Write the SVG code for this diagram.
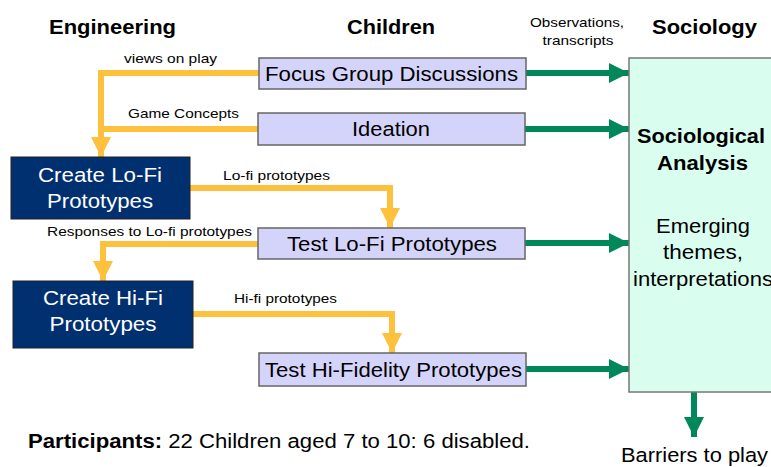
<svg xmlns="http://www.w3.org/2000/svg" width="771" height="467" viewBox="0 0 771 467">
<style>
text{font-family:"Liberation Sans",Arial,sans-serif;fill:#000}
.h{font-size:20px;font-weight:bold;text-anchor:middle}
.lbl{font-size:13.5px;text-anchor:middle}
.sm{font-size:13px;text-anchor:middle}
.box{fill:#d4d4fb;stroke:#666;stroke-width:1.5}
.bt{font-size:20.5px;text-anchor:middle}
.eng{fill:#003070;stroke:#222;stroke-width:1}
.et{font-size:20.5px;text-anchor:middle;fill:#fff}
.y{fill:none;stroke:#fdc13d;stroke-width:6}
.g{fill:none;stroke:#00875a;stroke-width:6}
.st{font-size:20.5px;text-anchor:middle}
</style>
<defs>
<marker id="ya" markerUnits="userSpaceOnUse" markerWidth="22" markerHeight="20" refX="20" refY="10" orient="auto" viewBox="0 0 22 20"><path d="M0,0 L20,10 L0,20 Z" fill="#fdc13d"/></marker>
<marker id="ga" markerUnits="userSpaceOnUse" markerWidth="22" markerHeight="20" refX="20" refY="10" orient="auto" viewBox="0 0 22 20"><path d="M0,0 L20,10 L0,20 Z" fill="#00875a"/></marker>
</defs>
<rect width="771" height="467" fill="#fff"/>
<text class="h" x="112.5" y="34" textLength="127" lengthAdjust="spacingAndGlyphs">Engineering</text>
<text class="h" x="391" y="34" textLength="88" lengthAdjust="spacingAndGlyphs">Children</text>
<text class="h" x="704.5" y="34" textLength="105" lengthAdjust="spacingAndGlyphs">Sociology</text>
<text class="sm" x="577" y="27" textLength="94" lengthAdjust="spacingAndGlyphs">Observations,</text>
<text class="sm" x="578" y="45" textLength="71" lengthAdjust="spacingAndGlyphs">transcripts</text>

<g id="connectors">
<path class="y" d="M259,73 H101 V157" marker-end="url(#ya)"/>
<path class="y" d="M258,129 H101"/>
<path class="y" d="M190,188 H390 V228" marker-end="url(#ya)"/>
<path class="y" d="M258,244 H103 V281" marker-end="url(#ya)"/>
<path class="y" d="M193,314 H392 V353" marker-end="url(#ya)"/>
<path class="g" d="M526,73 H629" marker-end="url(#ga)"/>
<path class="g" d="M525,129 H629" marker-end="url(#ga)"/>
<path class="g" d="M525,243 H629" marker-end="url(#ga)"/>
<path class="g" d="M526,369 H629" marker-end="url(#ga)"/>
<path class="g" d="M694,392 V437" marker-end="url(#ga)"/>
<text class="lbl" x="170.5" y="63" textLength="93" lengthAdjust="spacingAndGlyphs">views on play</text>
<text class="lbl" x="183.5" y="118" textLength="111" lengthAdjust="spacingAndGlyphs">Game Concepts</text>
<text class="lbl" x="276.5" y="180" textLength="107" lengthAdjust="spacingAndGlyphs">Lo-fi prototypes</text>
<text class="lbl" x="149.5" y="236" textLength="205" lengthAdjust="spacingAndGlyphs">Responses to Lo-fi prototypes</text>
<text class="lbl" x="285.5" y="303" textLength="103" lengthAdjust="spacingAndGlyphs">Hi-fi prototypes</text>
</g>

<g id="focus"><rect class="box" x="259" y="58" width="267" height="31"/><text class="bt" x="391.5" y="81" textLength="253" lengthAdjust="spacingAndGlyphs">Focus Group Discussions</text></g>
<g id="ideation"><rect class="box" x="258" y="113" width="267" height="32"/><text class="bt" x="391" y="136" textLength="78" lengthAdjust="spacingAndGlyphs">Ideation</text></g>
<g id="testlofi"><rect class="box" x="258" y="228" width="267" height="31"/><text class="bt" x="392" y="251" textLength="210" lengthAdjust="spacingAndGlyphs">Test Lo-Fi Prototypes</text></g>
<g id="testhifi"><rect class="box" x="259" y="353" width="267" height="33"/><text class="bt" x="393.5" y="377" textLength="257" lengthAdjust="spacingAndGlyphs">Test Hi-Fidelity Prototypes</text></g>
<g id="createlofi"><rect class="eng" x="11" y="157" width="179" height="62"/><text class="et" x="100" y="182" textLength="124" lengthAdjust="spacingAndGlyphs">Create Lo-Fi</text><text class="et" x="100" y="208" textLength="106" lengthAdjust="spacingAndGlyphs">Prototypes</text></g>
<g id="createhifi"><rect class="eng" x="13" y="281" width="180" height="67"/><text class="et" x="103" y="305" textLength="120" lengthAdjust="spacingAndGlyphs">Create Hi-Fi</text><text class="et" x="103" y="331" textLength="107" lengthAdjust="spacingAndGlyphs">Prototypes</text></g>
<g id="sociology"><rect x="629" y="58" width="160" height="334" fill="#d9fef0" stroke="#777" stroke-width="1.5"/>
<text class="st" x="701" y="143" font-weight="bold" textLength="128" lengthAdjust="spacingAndGlyphs">Sociological</text>
<text class="st" x="702.5" y="170" font-weight="bold" textLength="91" lengthAdjust="spacingAndGlyphs">Analysis</text>
<text class="st" x="703" y="233" textLength="94" lengthAdjust="spacingAndGlyphs">Emerging</text>
<text class="st" x="703" y="259" textLength="80" lengthAdjust="spacingAndGlyphs">themes,</text>
<text class="st" x="703" y="286" textLength="140" lengthAdjust="spacingAndGlyphs">interpretations</text>
</g>
<g id="barriers"><text class="st" x="694.5" y="462" textLength="147" lengthAdjust="spacingAndGlyphs">Barriers to play</text></g>
<g id="participants"><text x="28" y="448" font-size="19.5" textLength="502" lengthAdjust="spacingAndGlyphs"><tspan font-weight="bold">Participants:</tspan> 22 Children aged 7 to 10: 6 disabled.</text></g>
</svg>
